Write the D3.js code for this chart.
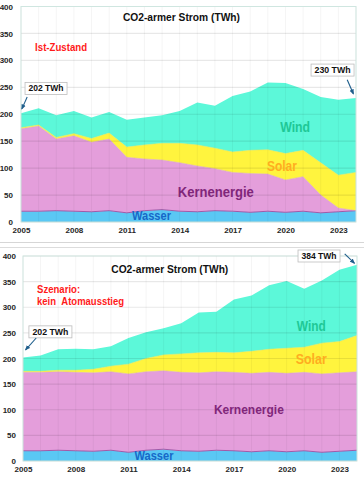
<!DOCTYPE html>
<html><head><meta charset="utf-8">
<script src="https://cdn.jsdelivr.net/npm/d3@7/dist/d3.min.js"></script>
<style>
html,body{margin:0;padding:0;background:#fff;}
svg{display:block;font-family:"Liberation Sans",Arial,sans-serif;}
</style></head>
<body>
<svg id="chart" width="364" height="480"></svg>
<script>
// ---------- data ----------
const years = [2005,2006,2007,2008,2009,2010,2011,2012,2013,2014,2015,2016,2017,2018,2019,2020,2021,2022,2023,2024];
const wasser = [20,20,21,20,19,21,17,21,23,20,19,21,20,18,20,18,20,17,19,21];
const kernenergie = [153,158,133,140,129,133,103,96,92,90,85,78,72,72,69,60,64,33,7,0];
const kernenergieSzenario = [153,153,153,153,153,153,153,153,153,153,153,153,153,153,153,153,153,153,153,153];
const solar = [2,2,3,4,7,11,19,26,31,36,39,38,38,43,45,49,49,60,61,71];
const wind = [27,31,41,42,39,39,51,51,52,60,79,79,104,109,125,131,114,122,140,138];
const seriesKeys = ["Wasser","Kernenergie","Solar","Wind"];
const yTicks = [0,50,100,150,200,250,300,350,400];
const xTickYears = [2005,2008,2011,2014,2017,2020,2023];
const titleText = "CO2-armer Strom (TWh)";
const startLabel = "202 TWh";
const endLabelIst = "230 TWh";
const endLabelSzenario = "384 TWh";

const colors = {Wasser:"#5ac8f4", Kernenergie:"#e49edb", Solar:"#fff43e", Wind:"#5cf8d9"};
const labelColors = {Wasser:"#1668c8", Kernenergie:"#80267a", Solar:"#ffad1f", Wind:"#1ec896"};

const svg = d3.select("#chart");
svg.append("defs").append("marker").attr("id","ah").attr("viewBox","0 0 10 10").attr("refX",8).attr("refY",5)
  .attr("markerWidth",5).attr("markerHeight",5).attr("orient","auto")
  .append("path").attr("d","M0,1 L10,5 L0,9 z").attr("fill","#1f5f8c");

// separator lines between the two pictures
svg.append("line").attr("x1",0).attr("x2",364).attr("y1",242.5).attr("y2",242.5).attr("stroke","#d6d6d6").attr("stroke-width",1);
svg.append("line").attr("x1",0).attr("x2",364).attr("y1",247.5).attr("y2",247.5).attr("stroke","#dcdcdc").attr("stroke-width",1);

function drawChart(cfg){
  const g = svg.append("g");
  const x = d3.scaleLinear().domain([2005,2024]).range([cfg.left,cfg.right]);
  const y = d3.scaleLinear().domain([0,400]).range([cfg.bottom,cfg.top]);

  const table = years.map((yr,i)=>({year:yr, Wasser:wasser[i], Kernenergie:cfg.kern[i], Solar:solar[i], Wind:wind[i]}));
  const stacked = d3.stack().keys(seriesKeys)(table);

  // areas
  const area = d3.area().x(d=>x(d.data.year)).y0(d=>y(d[0])).y1(d=>y(d[1]));
  g.selectAll("path.area").data(stacked).join("path")
    .attr("class","area").attr("d",area).attr("fill",d=>colors[d.key]);

  // thin boundary lines
  const line = d3.line().x(d=>x(d.data.year)).y(d=>y(d[1]));
  g.append("path").attr("d",line(stacked[0])).attr("fill","none").attr("stroke","#a05aa8").attr("stroke-width",1);
  g.append("path").attr("d",line(stacked[1])).attr("fill","none").attr("stroke","#d9a4c8").attr("stroke-width",0.6);
  g.append("path").attr("d",line(stacked[2])).attr("fill","none").attr("stroke","#f2e84a").attr("stroke-width",0.6);

  // gridlines (drawn faintly over everything)
  g.selectAll("line.hg").data(yTicks).join("line").attr("class","hg")
    .attr("x1",cfg.left).attr("x2",cfg.right).attr("y1",d=>y(d)).attr("y2",d=>y(d))
    .attr("stroke","rgba(0,0,0,0.09)").attr("stroke-width",1.2);
  g.selectAll("line.vg").data(years).join("line").attr("class","vg")
    .attr("x1",d=>x(d)).attr("x2",d=>x(d)).attr("y1",cfg.top).attr("y2",cfg.bottom)
    .attr("stroke","rgba(0,0,0,0.045)").attr("stroke-width",1);

  // plot frame
  g.append("rect").attr("x",cfg.left).attr("y",cfg.top).attr("width",cfg.right-cfg.left).attr("height",cfg.bottom-cfg.top)
    .attr("fill","none").attr("stroke","#cfe6e0").attr("stroke-width",1);

  // axes
  const ya = g.append("g").attr("transform",`translate(${cfg.left},0)`)
    .call(d3.axisLeft(y).tickValues(yTicks).tickSize(0).tickPadding(cfg.yPad));
  ya.select(".domain").remove();
  ya.selectAll("text").attr("font-size",8).attr("font-weight","bold").attr("fill","#262626").attr("font-family","Liberation Sans, Arial, sans-serif");
  const xa = g.append("g").attr("transform",`translate(0,${cfg.bottom})`)
    .call(d3.axisBottom(x).tickValues(xTickYears).tickFormat(d3.format("d")).tickSize(0).tickPadding(5));
  xa.select(".domain").remove();
  xa.selectAll("text").attr("font-size",8).attr("font-weight","bold").attr("fill","#262626").attr("font-family","Liberation Sans, Arial, sans-serif");

  function txt(t, px, py, opts){
    const el = g.append("text").attr("x",px).attr("y",py).attr("dy","0.35em")
      .attr("text-anchor",opts.anchor||"middle").attr("font-size",opts.size).attr("font-weight","bold")
      .attr("fill",opts.color).style("white-space","pre").text(t);
    if(opts.len){el.attr("textLength",opts.len).attr("lengthAdjust","spacingAndGlyphs");}
    return el;
  }

  // title
  txt(titleText, x(cfg.title[0]), y(cfg.title[1]), {size:11, color:"#111", len:117});
  // notes
  cfg.note.forEach(n=>txt(n.t, x(n.yr), y(n.v), {size:10.5, color:"#ff1a1a", len:n.len, anchor:"start"}));
  // series labels
  cfg.labels.forEach(l=>txt(l.key, x(l.yr), y(l.v), {size:l.size, color:labelColors[l.key], len:l.len}));

  // value boxes with arrows
  cfg.boxes.forEach(b=>{
    const cx = x(b.yr), cy = y(b.v);
    g.append("rect").attr("x",cx-b.w/2).attr("y",cy-6).attr("width",b.w).attr("height",12)
      .attr("fill","#fff").attr("stroke","#bdbdbd").attr("stroke-width",0.8);
    txt(b.t, cx, cy, {size:8.5, color:"#111", len:b.w-7});
    g.append("line").attr("x1",x(b.a[0])).attr("y1",y(b.a[1])).attr("x2",x(b.a[2])).attr("y2",y(b.a[3]))
      .attr("stroke","#1f5f8c").attr("stroke-width",1.1).attr("marker-end","url(#ah)");
  });
}

// top chart: Ist-Zustand
drawChart({
  left:21, right:356, top:6.5, bottom:222, yPad:8, kern:kernenergie,
  title:[2014.1, 380],
  note:[{t:"Ist-Zustand", yr:2005.8, v:325, len:52}],
  labels:[
    {key:"Wind", yr:2020.55, v:177, size:15, len:30},
    {key:"Solar", yr:2019.8, v:104, size:14.5, len:30},
    {key:"Kernenergie", yr:2016.05, v:56, size:14, len:76},
    {key:"Wasser", yr:2012.4, v:11, size:12.5, len:39}
  ],
  boxes:[
    {t:startLabel, yr:2006.42, v:248, w:42, a:[2005.35, 232, 2005.05, 210]},
    {t:endLabelIst, yr:2022.67, v:282, w:43, a:[2023.5, 264, 2023.85, 238]}
  ]
});

// bottom chart: Szenario
drawChart({
  left:23, right:357, top:256, bottom:461, yPad:7, kern:kernenergieSzenario,
  title:[2013.35, 374.5],
  note:[{t:"Szenario:", yr:2005.8, v:335, len:43},{t:"kein\u00a0\u00a0Atomausstieg", yr:2005.8, v:311, len:87}],
  labels:[
    {key:"Wind", yr:2021.4, v:263, size:14.5, len:29},
    {key:"Solar", yr:2021.4, v:199, size:14.5, len:31},
    {key:"Kernenergie", yr:2017.85, v:101, size:13, len:70},
    {key:"Wasser", yr:2012.45, v:10, size:12.5, len:39}
  ],
  boxes:[
    {t:startLabel, yr:2006.56, v:252, w:43, a:[2005.75, 240, 2005.15, 217]},
    {t:endLabelSzenario, yr:2021.84, v:400, w:42, a:[2023.3, 404, 2023.85, 386]}
  ]
});
</script>
</body></html>
